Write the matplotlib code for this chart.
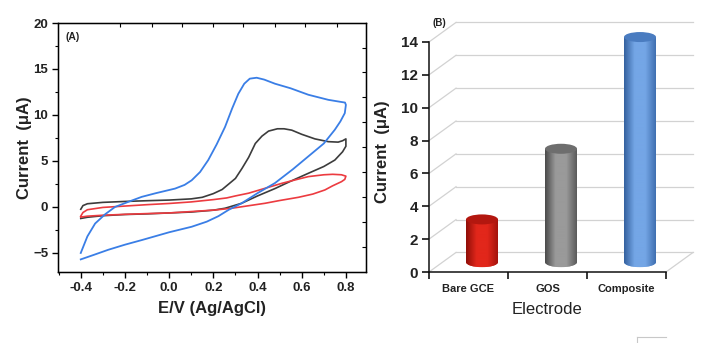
import numpy as np
import matplotlib
matplotlib.use("Agg")
import matplotlib.pyplot as plt
from matplotlib.patches import Ellipse
from matplotlib.colors import LinearSegmentedColormap
from matplotlib.lines import Line2D

plt.rcParams['font.family'] = ['Liberation Sans', 'DejaVu Sans']

# ---------------- Panel A data (cyclic voltammograms) ----------------
E_blue = [-0.40, -0.37, -0.335, -0.29, -0.245, -0.18, -0.124, -0.06, 0.027, 0.07, 0.102, 0.14,
          0.177, 0.215, 0.253, 0.285, 0.313, 0.34, 0.365, 0.396, 0.43, 0.479, 0.55, 0.63, 0.72,
          0.77, 0.796, 0.80,
          0.795, 0.775, 0.75, 0.70, 0.63, 0.56, 0.479, 0.40, 0.328, 0.27, 0.223, 0.17, 0.102,
          0.0, -0.124, -0.20, -0.275, -0.34, -0.40]
I_blue = [-5.0, -3.2, -1.8, -0.8, 0.0, 0.6, 1.1, 1.5, 2.0, 2.4, 2.9, 3.8,
          5.1, 6.8, 8.7, 10.7, 12.3, 13.4, 13.95, 14.05, 13.85, 13.4, 12.9, 12.2, 11.65,
          11.45, 11.35, 11.1,
          10.2, 9.3, 8.4, 6.9, 5.5, 4.1, 2.6, 1.5, 0.4, -0.3, -1.0, -1.6, -2.15,
          -2.75, -3.6, -4.1, -4.65, -5.2, -5.7]

E_black = [-0.40, -0.39, -0.37, -0.3, -0.2, -0.1, 0.0, 0.1, 0.15, 0.20, 0.24, 0.27, 0.30, 0.33,
           0.36, 0.39, 0.42, 0.45, 0.49, 0.52, 0.555, 0.60, 0.66, 0.72, 0.765, 0.785, 0.80,
           0.80, 0.785, 0.75, 0.70, 0.63, 0.55, 0.479, 0.40, 0.328, 0.253, 0.2, 0.1, 0.0,
           -0.1, -0.2, -0.3, -0.37, -0.40]
I_black = [-0.25, 0.15, 0.35, 0.5, 0.6, 0.68, 0.75, 0.88, 1.05, 1.45, 1.9, 2.5, 3.1, 4.2,
           5.4, 6.9, 7.7, 8.25, 8.5, 8.5, 8.35, 7.9, 7.4, 7.1, 7.05, 7.2, 7.4,
           6.6, 6.0, 5.1, 4.4, 3.66, 2.8, 2.0, 1.2, 0.4, -0.14, -0.35, -0.55, -0.65,
           -0.75, -0.82, -0.95, -1.12, -1.25]

E_red = [-0.40, -0.39, -0.37, -0.3, -0.2, -0.1, 0.0, 0.1, 0.2, 0.26, 0.3, 0.36, 0.43, 0.51,
         0.58, 0.63, 0.70, 0.74, 0.78, 0.80,
         0.795, 0.78, 0.74, 0.705, 0.65, 0.585, 0.50, 0.434, 0.35, 0.283, 0.208, 0.1, 0.0,
         -0.1, -0.2, -0.3, -0.37, -0.40]
I_red = [-1.0, -0.6, -0.3, -0.05, 0.1, 0.25, 0.38, 0.55, 0.8, 0.98, 1.2, 1.5, 2.0, 2.57,
         3.0, 3.3, 3.5, 3.55, 3.5, 3.35,
         3.0, 2.75, 2.3, 1.85, 1.4, 1.05, 0.7, 0.4, 0.1, -0.14, -0.33, -0.5, -0.65,
         -0.72, -0.8, -0.9, -1.0, -1.1]

xticks_A = [-0.4, -0.2, 0.0, 0.2, 0.4, 0.6, 0.8]
yticks_A = [-5, 0, 5, 10, 15, 20]
top_ticks_A = [-0.222, -0.079, 0.057, 0.2, 0.336, 0.479, 0.615, 0.758]
right_ticks_A = [17.25, 14.7, 12.0, 9.27, 6.55, 3.84, 1.12, -1.6, -4.3]

# ---------------- Panel B data (peak currents) ----------------
electrodes = ['Bare GCE', 'GOS', 'Composite']
peak_current = [2.6, 6.9, 13.7]
bar_colors = [('#8e0e08', '#e2271b', '#a3130c'),
              ('#4a4a4a', '#9a9a9a', '#5a5a5a'),
              ('#34609e', '#74a6e6', '#3f6fb0')]
top_colors = ['#b3170f', '#6e6e6e', '#4a7cc0']
yticks_B = [0, 2, 4, 6, 8, 10, 12, 14]

W, H = 709, 343
fig = plt.figure(figsize=(W / 100, H / 100), dpi=100)

# ---------------- Panel A ----------------
axA = fig.add_axes([58 / W, (H - 272) / H, 308 / W, 249 / H])
axA.plot(E_black, I_black, color='#3c3c3c', lw=1.2)
axA.plot(E_red, I_red, color='#ec3b40', lw=1.2)
axA.plot(E_blue, I_blue, color='#3a7ee6', lw=1.3)
axA.set_xlim(-0.503, 0.891)
axA.set_ylim(-7.07, 20)
axA.set_xticks(xticks_A)
axA.set_xticklabels(['-0.4', '-0.2', '0.0', '0.2', '0.4', '0.6', '0.8'])
axA.set_yticks(yticks_A)
axA.set_xticks(np.arange(-0.5, 0.9, 0.1), minor=True)
axA.set_yticks(np.arange(-7.5, 20.1, 2.5), minor=True)
axA.set_xlim(-0.503, 0.891)
axA.set_ylim(-7.07, 20)
axA.tick_params(axis='both', which='major', direction='out', length=4, width=1,
                labelsize=9.5, pad=3)
axA.tick_params(axis='both', which='minor', direction='out', length=2.5, width=0.8)
for lab in axA.get_xticklabels() + axA.get_yticklabels():
    lab.set_fontweight('bold')
    lab.set_color('#222222')
for sp in axA.spines.values():
    sp.set_linewidth(1.0)
    sp.set_color('#222222')
axA.set_xlabel('E/V (Ag/AgCl)', fontsize=12, fontweight='bold', color='#222222', labelpad=5)
axA.set_ylabel('Current  (\u03bcA)', fontsize=12, fontweight='bold', color='#222222', labelpad=1)
axA.text(0.025, 0.965, '(A)', transform=axA.transAxes, fontsize=7.5, fontweight='bold',
         va='top', ha='left', color='#222222')

axA_t = axA.twiny()
axA_t.set_xlim(axA.get_xlim())
axA_t.set_xticks(top_ticks_A)
axA_t.tick_params(axis='x', direction='in', length=3, width=0.8, labeltop=False)
axA_r = axA.twinx()
axA_r.set_ylim(axA.get_ylim())
axA_r.set_yticks(right_ticks_A)
axA_r.tick_params(axis='y', direction='in', length=3, width=0.8, labelright=False)

# ---------------- Panel B ----------------
px_per_cat = 79.0
px_per_unit = 16.43
ylim_top = 16.0
x_max = 3.5
axB = fig.add_axes([429 / W, (H - 272) / H, x_max * px_per_cat / W, ylim_top * px_per_unit / H])
axB.set_xlim(0, x_max)
axB.set_ylim(0, ylim_top)
axB.set_facecolor('none')
for s in ['top', 'right']:
    axB.spines[s].set_visible(False)
axB.spines['left'].set_bounds(0, 14)
axB.spines['bottom'].set_bounds(0, 3)
for s in ['left', 'bottom']:
    axB.spines[s].set_linewidth(1.1)
    axB.spines[s].set_color('#111111')

dx, dy = 0.342, 1.19
grid_c = '#d2d2d2'
for v in yticks_B:
    axB.plot([dx, 3 + dx], [v + dy, v + dy], color=grid_c, lw=0.9, zorder=1)
    axB.plot([0, dx], [v, v + dy], color=grid_c, lw=0.9, zorder=1)
axB.plot([3, 3 + dx], [0, dy], color=grid_c, lw=0.9, zorder=1)

bw = 0.405
eh = 0.61
base = 0.6
for i, (name, val) in enumerate(zip(electrodes, peak_current)):
    xc = i + 0.5 + dx / 2
    c_edge, c_mid, c_right = bar_colors[i]
    cmap = LinearSegmentedColormap.from_list('g%d' % i, [c_edge, c_mid, c_mid, c_right])
    bar = axB.bar(xc, val, bottom=base, width=bw, color='none', edgecolor='none', zorder=3)[0]
    grad = np.linspace(0, 1, 256).reshape(1, -1)
    im = axB.imshow(grad, cmap=cmap, aspect='auto', zorder=3,
                    extent=[xc - bw / 2, xc + bw / 2, base - eh / 2, base + val])
    im.set_clip_path(bar)
    bottom_e = Ellipse((xc, base), bw, eh, facecolor=c_mid, edgecolor='none', zorder=2.9)
    axB.add_patch(bottom_e)
    im2 = axB.imshow(grad, cmap=cmap, aspect='auto', zorder=3,
                     extent=[xc - bw / 2, xc + bw / 2, base - eh / 2, base + eh / 2])
    im2.set_clip_path(bottom_e)
    top_e = Ellipse((xc, base + val), bw, eh, facecolor=top_colors[i], edgecolor='none', zorder=4)
    axB.add_patch(top_e)

axB.set_xlim(0, x_max)
axB.set_ylim(0, ylim_top)
axB.set_yticks(yticks_B)
axB.set_xticks([0, 1, 2, 3])
axB.set_xticklabels([])
axB.set_xticks([0.5, 1.5, 2.5], minor=True)
axB.set_xticklabels(electrodes, minor=True)
axB.tick_params(axis='y', direction='out', length=5, width=1.1, labelsize=11, pad=3)
axB.tick_params(axis='x', which='major', direction='out', length=5, width=1.1)
axB.tick_params(axis='x', which='minor', length=0, labelsize=8, pad=9)
for lab in axB.get_yticklabels() + axB.get_xticklabels(minor=True):
    lab.set_fontweight('bold')
    lab.set_color('#222222')
axB.set_ylabel('Current  (\u03bcA)', fontsize=12, fontweight='bold', color='#222222')
axB.yaxis.set_label_coords(-0.14, 14 / ylim_top / 2 + 0.02)
axB.set_xlabel('Electrode', fontsize=12, color='#222222')
axB.xaxis.set_label_coords(1.5 / x_max, -0.115)
fig.text(439 / W, 1 - 23 / H, '(B)', fontsize=7, fontweight='bold', ha='center', va='center',
         color='#222222')

# small frame artefact at the bottom right
fig.add_artist(Line2D([637 / W, 666 / W], [1 - 337 / H, 1 - 337 / H], color='#c8c8c8', lw=0.8))
fig.add_artist(Line2D([637 / W, 637 / W], [1 - 337 / H, 0], color='#c8c8c8', lw=0.8))

fig.savefig('out.png', dpi=100)
